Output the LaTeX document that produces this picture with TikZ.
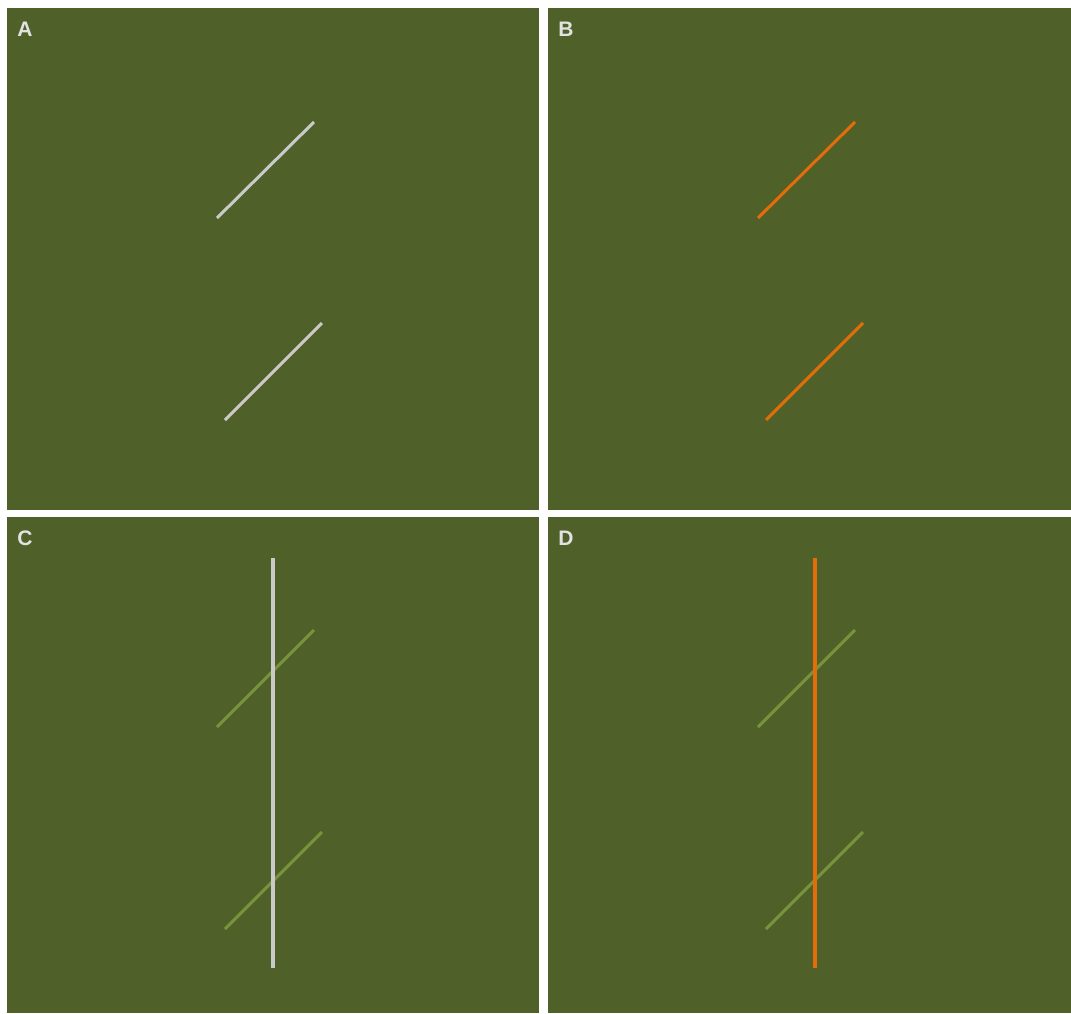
\documentclass[tikz,border=0pt]{standalone}
\usepackage{xcolor}
\usepackage{fontspec}
\setsansfont{Liberation Sans}

\definecolor{fondo}{HTML}{4F6128}
\definecolor{gris}{HTML}{CACACA}
\definecolor{naranja}{HTML}{E46C0A}
\definecolor{verdeclaro}{HTML}{77933C}
\definecolor{etiqueta}{HTML}{E2E2E2}

\tikzset{
  etq/.style={text=etiqueta, font=\sffamily\bfseries\fontsize{10.5}{10.5}\selectfont, inner sep=0pt},
  raya/.style={line width=1.5pt},
  barra/.style={line width=2pt}
}

\begin{document}
\begin{tikzpicture}[x=0.5pt,y=-0.5pt]

    \useasboundingbox (0,0) rectangle (1071,1013);
    \fill[white] (0,0) rectangle (1071,1013);

    % Panel A
    \fill[fondo] (7,8) rectangle (539,510);
    \node[etq] (labA) at (25,29) {A};
    \draw[raya, gris] (217,218) -- (314,122);
    \draw[raya, gris] (225,420) -- (322,323);

    % Panel B
    \fill[fondo] (548,8) rectangle (1071,510);
    \node[etq] (labB) at (566,29) {B};
    \draw[raya, naranja] (758,218) -- (855,122);
    \draw[raya, naranja] (766,420) -- (863,323);

    % Panel C
    \fill[fondo] (7,517) rectangle (539,1013);
    \node[etq] (labC) at (25,538) {C};
    \draw[raya, verdeclaro] (217,727) -- (314,630);
    \draw[raya, verdeclaro] (225,929) -- (322,832);
    \draw[barra, gris] (273,558) -- (273,968);

    % Panel D
    \fill[fondo] (548,517) rectangle (1071,1013);
    \node[etq] (labD) at (566,538) {D};
    \draw[raya, verdeclaro] (758,727) -- (855,630);
    \draw[raya, verdeclaro] (766,929) -- (863,832);
    \draw[barra, naranja] (815,558) -- (815,968);

\end{tikzpicture}
\end{document}
